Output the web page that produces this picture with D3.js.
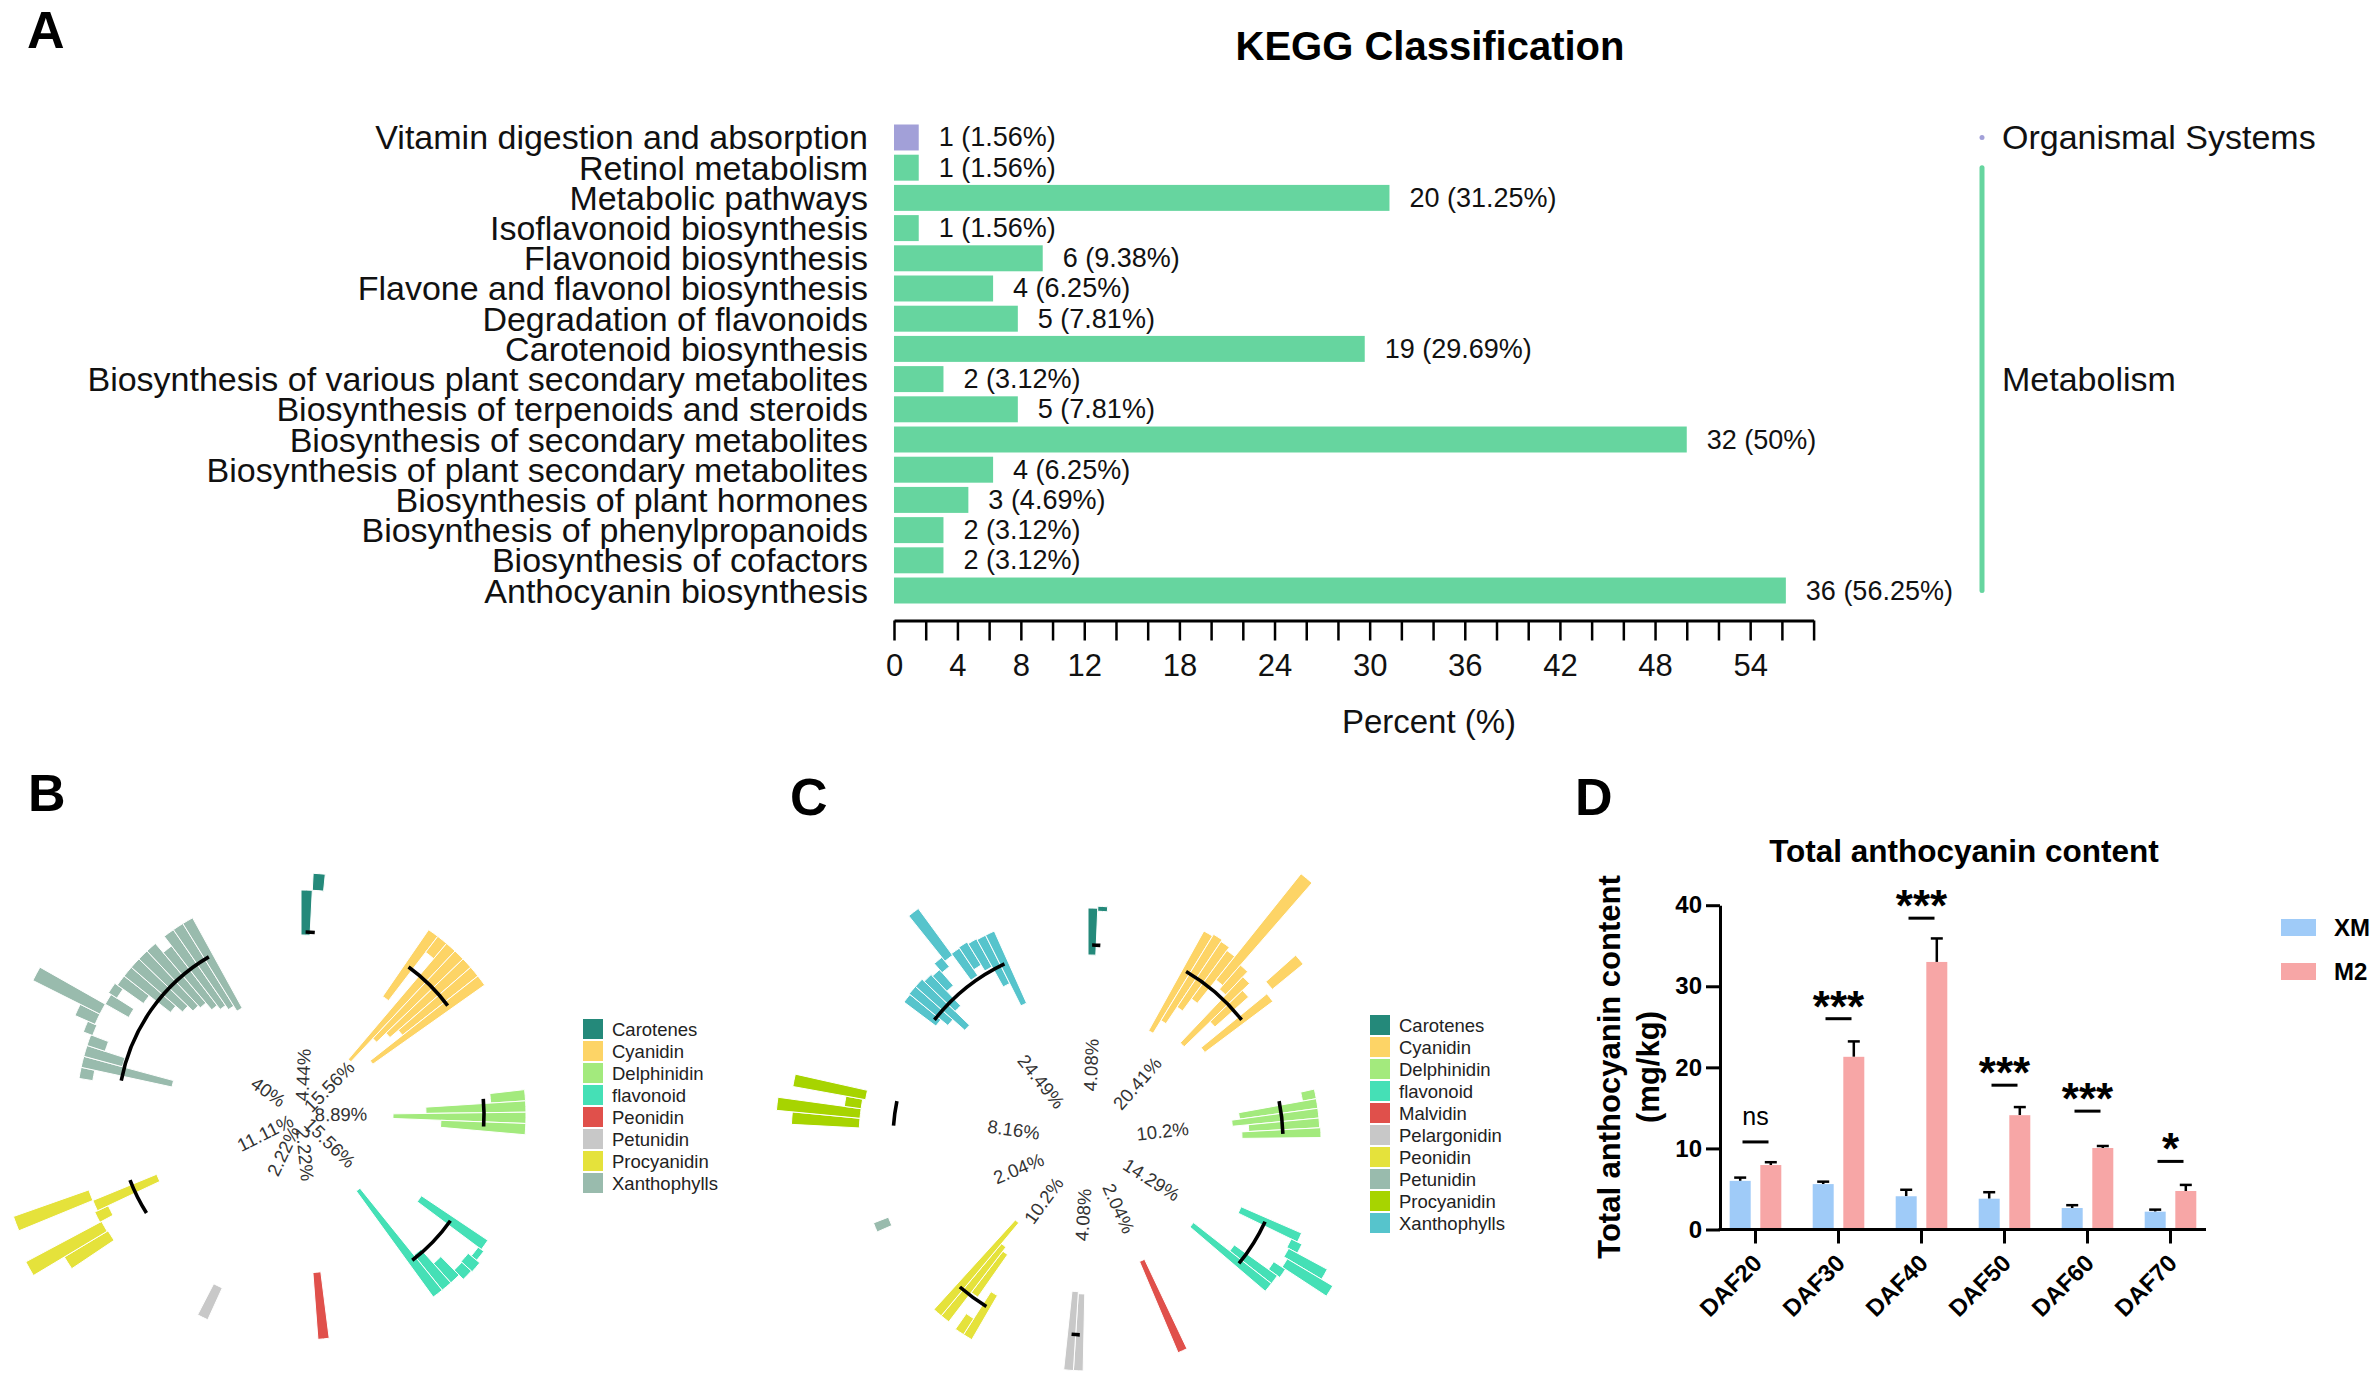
<!DOCTYPE html>
<html>
<head>
<meta charset="utf-8">
<script src="https://cdn.jsdelivr.net/npm/d3@7"></script>
<style>
  body { margin: 0; background: #fff; }
  svg { display: block; }
  text { font-family: "Liberation Sans", Arial, Helvetica, sans-serif; }
</style>
</head>
<body>
<svg id="fig" width="2376" height="1374"></svg>
<script>
// ---------- A: KEGG classification ----------
const keggTerms = [
  "Vitamin digestion and absorption", "Retinol metabolism", "Metabolic pathways",
  "Isoflavonoid biosynthesis", "Flavonoid biosynthesis", "Flavone and flavonol biosynthesis",
  "Degradation of flavonoids", "Carotenoid biosynthesis",
  "Biosynthesis of various plant secondary metabolites", "Biosynthesis of terpenoids and steroids",
  "Biosynthesis of secondary metabolites", "Biosynthesis of plant secondary metabolites",
  "Biosynthesis of plant hormones", "Biosynthesis of phenylpropanoids",
  "Biosynthesis of cofactors", "Anthocyanin biosynthesis"
];
const keggCounts = [1, 1, 20, 1, 6, 4, 5, 19, 2, 5, 32, 4, 3, 2, 2, 36];
const keggPercent = [1.56, 1.56, 31.25, 1.56, 9.38, 6.25, 7.81, 29.69, 3.12, 7.81, 50, 6.25, 4.69, 3.12, 3.12, 56.25];
const keggClass = ["Organismal Systems"].concat(d3.range(15).map(() => "Metabolism"));
const keggClassNames = ["Organismal Systems", "Metabolism"];
const keggClassColors = ["#a2a0d8", "#66d59f"];
const percentTickLabels = [0, 4, 8, 12, 18, 24, 30, 36, 42, 48, 54];

// ---------- B: radial plot (first sample) ----------
const bGroups = ["Carotenes", "Cyanidin", "Delphinidin", "flavonoid", "Peonidin", "Petunidin", "Procyanidin", "Xanthophylls"];
const bShare = ["4.44%", "15.56%", "8.89%", "15.56%", "2.22%", "2.22%", "11.11%", "40%"];
const bColors = ["#24897a", "#fdd466", "#a3ea7d", "#45e0b6", "#e0504b", "#c8c8c8", "#e5e23b", "#99bbad"];
const bLow = [
  [-0.3, 4.2],
  [-3.9, 2.2, -11.0, -7.8, -6.5, -5.4, -9.5],
  [0.7, -5.8, -9.1, -4.3],
  [-3.8, 3.8, 3.4, 3.5, 1.6, -0.3, -8.9],
  [-2.5],
  [0.7],
  [4.2, 4.3, 3.0, -2.7, 4.2],
  [2.8, -5.1, 0.2, 2.3, 4.0, 4.2, 4.2, 1.5, 3.5, 1.0, -1.7, -2.6, -3.3, -3.6, -4.5, -5.0, -5.5, -6.1]
];
const bHigh = [
  [4.2, 5.9],
  [4.2, 4.2, 4.2, 4.2, 4.2, 4.2, 4.2],
  [4.2, 4.2, 4.2, 4.2],
  [4.2, 4.5, 4.9, 4.8, 4.2, 4.2, 4.2],
  [4.2],
  [4.2],
  [9.3, 12.9, 4.5, 4.2, 12.2],
  [4.2, 4.2, 4.2, 4.2, 5.0, 6.4, 11.7, 4.2, 4.5, 4.2, 4.2, 4.2, 4.2, 4.2, 3.0, 4.2, 4.2, 4.2]
];

// ---------- C: radial plot (second sample) ----------
const cGroups = ["Carotenes", "Cyanidin", "Delphinidin", "flavonoid", "Malvidin", "Pelargonidin", "Peonidin", "Petunidin", "Procyanidin", "Xanthophylls"];
const cShare = ["4.08%", "20.41%", "10.2%", "14.29%", "2.04%", "4.08%", "10.2%", "2.04%", "8.16%", "24.49%"];
const cColors = ["#24897a", "#fdd466", "#a3ea7d", "#45e0b6", "#e0504b", "#c8c8c8", "#e5e23b", "#99bbad", "#a7d400", "#56c4cc"];
const cLow = [
  [-1.0, 3.4],
  [-7.0, -5.5, -3.5, -2.0, 1.0, 0.5, -6.1, -2.5, 4.3, -4.9],
  [2.3, -4.2, -5.0, -3.4, -4.1],
  [-2.8, 3.1, 3.3, 3.7, 2.7, -1.5, -6.1],
  [-6.3],
  [-4.1, -4.3],
  [-1.5, 1.7, -5.5, -6.0, -8.7],
  [1.9],
  [3.4, 3.4, 3.4, 3.1],
  [-0.5, -1.4, -3.0, -1.0, 1.0, 2.7, 3.4, 0.3, 1.0, 0.3, -2.0, -4.5]
];
const cHigh = [
  [3.7, 3.9],
  [4.4, 4.6, 4.4, 4.0, 14.6, 3.7, 3.0, 2.0, 8.3, 3.6],
  [3.7, 3.7, 3.7, 3.7, 3.8],
  [3.8, 4.3, 7.7, 9.0, 4.1, 3.8, 3.8],
  [3.6],
  [3.6, 3.6],
  [3.6, 3.6, -0.3, 3.4, 3.4],
  [3.5],
  [10.2, 11.8, 5.1, 10.5],
  [3.5, 3.6, 3.6, 3.3, 3.1, 3.9, 9.2, 3.6, 3.7, 3.5, 3.4, 3.4]
];

// ---------- D: total anthocyanin content ----------
const dafLabels = ["DAF20", "DAF30", "DAF40", "DAF50", "DAF60", "DAF70"];
const lines = ["XM", "M2"];
const lineColors = ["#9fcbf8", "#f7a6a6"];
const xmMean = [6.0, 5.6, 4.1, 3.8, 2.65, 2.2];
const xmErr = [0.4, 0.3, 0.8, 0.8, 0.35, 0.25];
const m2Mean = [7.95, 21.3, 33.0, 14.1, 10.05, 4.75];
const m2Err = [0.35, 1.9, 2.9, 1.0, 0.25, 0.75];
const sigLevel = [10.8, 26.0, 38.4, 17.8, 14.6, 8.4];
const sigText = ["ns", "***", "***", "***", "***", "*"];

const svg = d3.select("#fig");
svg.append("rect").attr("width", 2376).attr("height", 1374).attr("fill", "#fff");

// panel letters
[["A", 27, 48], ["B", 28, 811], ["C", 790, 815], ["D", 1575, 815]].forEach(([t, x, y]) => {
  svg.append("text").attr("x", x).attr("y", y).text(t)
    .attr("font-size", 52).attr("font-weight", "bold").attr("fill", "#000");
});

// ================= Panel A =================
const gA = svg.append("g");
const xA = d3.scaleLinear().domain([0, 58]).range([894, 1813.6]);
const yA = d3.scaleBand().domain(keggTerms).range([124.5, 603.5]).paddingInner(0.14);
const colA = d3.scaleOrdinal().domain(keggClassNames).range(keggClassColors);

gA.append("text").attr("x", 1430).attr("y", 60).attr("text-anchor", "middle")
  .attr("font-size", 40).attr("font-weight", "bold").text("KEGG Classification");

gA.selectAll("rect.bar").data(keggTerms).join("rect")
  .attr("class", "bar")
  .attr("x", xA(0))
  .attr("y", d => yA(d))
  .attr("width", (d, i) => xA(keggPercent[i]) - xA(0))
  .attr("height", yA.bandwidth())
  .attr("fill", (d, i) => colA(keggClass[i]));

// category labels
gA.selectAll("text.cat").data(keggTerms).join("text")
  .attr("class", "cat")
  .attr("x", 868)
  .attr("y", d => yA(d) + yA.bandwidth() / 2 + 12)
  .attr("text-anchor", "end")
  .attr("font-size", 34)
  .attr("fill", "#111")
  .text(d => d);

// value labels
gA.selectAll("text.val").data(keggTerms).join("text")
  .attr("class", "val")
  .attr("x", (d, i) => xA(keggPercent[i]) + 20)
  .attr("y", d => yA(d) + yA.bandwidth() / 2 + 9)
  .attr("font-size", 27)
  .attr("fill", "#111")
  .text((d, i) => `${keggCounts[i]} (${keggPercent[i]}%)`);

// x axis
const axA = d3.axisBottom(xA)
  .tickValues(d3.range(0, 59, 2))
  .tickSize(20).tickSizeOuter(0).tickPadding(13)
  .tickFormat(d => percentTickLabels.includes(d) ? d : "");
const gAx = gA.append("g").attr("transform", "translate(0,620.5)").call(axA);
gAx.select(".domain").attr("stroke", "#000").attr("stroke-width", 3);
gAx.selectAll(".tick line").attr("stroke", "#000").attr("stroke-width", 2.5);
gAx.selectAll(".tick text").attr("font-size", 31).attr("fill", "#111")
  .attr("font-family", '"Liberation Sans", Arial, sans-serif');
gA.append("text").attr("x", 1429).attr("y", 733).attr("text-anchor", "middle")
  .attr("font-size", 33).attr("fill", "#111").text("Percent (%)");

// class brackets
keggClassNames.forEach((cls, ci) => {
  const rows = keggTerms.filter((t, i) => keggClass[i] === cls);
  const y1 = yA(rows[0]) + yA.bandwidth() / 2;
  const y2 = yA(rows[rows.length - 1]) + yA.bandwidth() / 2;
  gA.append("line").attr("x1", 1982).attr("x2", 1982).attr("y1", y1).attr("y2", y2)
    .attr("stroke", keggClassColors[ci]).attr("stroke-width", 5).attr("stroke-linecap", "round");
  gA.append("text").attr("x", 2002).attr("y", (y1 + y2) / 2 + 12)
    .attr("font-size", 34).attr("fill", "#111").text(cls);
});

// ================= Panels B & C (radial) =================
function drawRadial(cfg) {
  const g = svg.append("g").attr("transform", `translate(${cfg.cx},${cfg.cy})`);
  const slots = [];
  cfg.groups.forEach((name, gi) => {
    cfg.low[gi].forEach((lo, bi) => slots.push({ group: gi, lo: lo, hi: cfg.high[gi][bi] }));
    for (let k = 0; k < 10; k++) slots.push(null); // empty gap between groups
  });
  const ang = d3.scaleBand().domain(d3.range(slots.length)).range([0, 2 * Math.PI]);
  const r = d3.scaleLinear().domain([0, 10]).range([cfg.base, cfg.base + 10 * cfg.k]);
  const arc = d3.arc();
  const bars = [];
  slots.forEach((s, i) => { if (s) bars.push(Object.assign({ a0: ang(i), a1: ang(i) + ang.bandwidth() }, s)); });

  g.selectAll("path.rbar").data(bars).join("path")
    .attr("class", "rbar")
    .attr("d", d => arc({
      innerRadius: Math.max(0, r(Math.min(d.lo, d.hi))),
      outerRadius: r(Math.max(d.lo, d.hi)),
      startAngle: d.a0, endAngle: d.a1
    }))
    .attr("fill", d => cfg.colors[d.group])
    .attr("stroke", "#fff").attr("stroke-width", 1);

  cfg.groups.forEach((name, gi) => {
    const gb = bars.filter(b => b.group === gi);
    const m0 = (gb[0].a0 + gb[0].a1) / 2;
    const m1 = (gb[gb.length - 1].a0 + gb[gb.length - 1].a1) / 2;
    if (gb.length > 1) {
      g.append("path")
        .attr("d", arc({ innerRadius: r(0) - 1.8, outerRadius: r(0) + 1.8, startAngle: m0, endAngle: m1 }))
        .attr("fill", "#000");
    }
    const am = (gb[0].a0 + gb[gb.length - 1].a1) / 2;
    const deg = am * 180 / Math.PI;
    const rot = deg < 180 ? deg - 90 : deg - 270;
    const lx = cfg.labelR * Math.sin(am), ly = -cfg.labelR * Math.cos(am);
    g.append("text")
      .attr("transform", `translate(${lx},${ly}) rotate(${rot})`)
      .attr("text-anchor", "middle").attr("dy", "0.35em")
      .attr("font-size", 18.5).attr("fill", "#333")
      .text(cfg.share[gi]);
  });

  // legend
  const lg = svg.append("g").attr("transform", `translate(${cfg.legX},${cfg.legY})`);
  cfg.groups.forEach((name, gi) => {
    lg.append("rect").attr("x", 0).attr("y", gi * 22).attr("width", 20).attr("height", 20)
      .attr("fill", cfg.colors[gi]);
    lg.append("text").attr("x", 29).attr("y", gi * 22 + 17)
      .attr("font-size", 18.5).attr("fill", "#222").text(name);
  });
}

drawRadial({ groups: bGroups, share: bShare, colors: bColors, low: bLow, high: bHigh,
  cx: 301, cy: 1115, base: 183, k: 10, labelR: 40, legX: 583, legY: 1019 });
drawRadial({ groups: cGroups, share: cShare, colors: cColors, low: cLow, high: cHigh,
  cx: 1088, cy: 1140, base: 195, k: 10, labelR: 75, legX: 1370, legY: 1015 });

// ================= Panel D =================
const gD = svg.append("g");
const xD = d3.scaleBand().domain(dafLabels).range([1714, 2212]);
const xSub = d3.scaleBand().domain(lines).range([0, xD.bandwidth()]).paddingInner(0.314).paddingOuter(0.513);
const yD = d3.scaleLinear().domain([0, 40]).range([1229.5, 905.2]);
const colD = d3.scaleOrdinal().domain(lines).range(lineColors);

gD.append("text").attr("x", 1964).attr("y", 862).attr("text-anchor", "middle")
  .attr("font-size", 31.5).attr("font-weight", "bold").text("Total anthocyanin content");

const dRows = [];
dafLabels.forEach((d, i) => {
  dRows.push({ daf: d, line: "XM", mean: xmMean[i], err: xmErr[i] });
  dRows.push({ daf: d, line: "M2", mean: m2Mean[i], err: m2Err[i] });
});

// error bars (drawn first so bar covers lower part)
const eb = gD.selectAll("g.eb").data(dRows).join("g").attr("class", "eb");
eb.append("line")
  .attr("x1", d => xD(d.daf) + xSub(d.line) + xSub.bandwidth() / 2)
  .attr("x2", d => xD(d.daf) + xSub(d.line) + xSub.bandwidth() / 2)
  .attr("y1", d => yD(d.mean)).attr("y2", d => yD(d.mean + d.err))
  .attr("stroke", "#000").attr("stroke-width", 2.5);
eb.append("line")
  .attr("x1", d => xD(d.daf) + xSub(d.line) + xSub.bandwidth() / 2 - 6)
  .attr("x2", d => xD(d.daf) + xSub(d.line) + xSub.bandwidth() / 2 + 6)
  .attr("y1", d => yD(d.mean + d.err)).attr("y2", d => yD(d.mean + d.err))
  .attr("stroke", "#000").attr("stroke-width", 2.5);

gD.selectAll("rect.dbar").data(dRows).join("rect")
  .attr("class", "dbar")
  .attr("x", d => xD(d.daf) + xSub(d.line))
  .attr("y", d => yD(d.mean))
  .attr("width", xSub.bandwidth())
  .attr("height", d => yD(0) - yD(d.mean))
  .attr("fill", d => colD(d.line));

// y axis
const gDy = gD.append("g").attr("transform", "translate(1720,0)")
  .call(d3.axisLeft(yD).tickValues([0, 10, 20, 30, 40]).tickSize(14).tickSizeOuter(0).tickPadding(4));
gDy.select(".domain").attr("stroke", "#000").attr("stroke-width", 3);
gDy.selectAll(".tick line").attr("stroke", "#000").attr("stroke-width", 3);
gDy.selectAll(".tick text").attr("font-size", 24).attr("font-weight", "bold").attr("fill", "#000")
  .attr("font-family", '"Liberation Sans", Arial, sans-serif');

// x axis
const gDx = gD.append("g").attr("transform", `translate(0,${yD(0)})`)
  .call(d3.axisBottom(xD).tickSize(14).tickSizeOuter(0));
gDx.select(".domain").remove();
gDx.selectAll(".tick line").attr("stroke", "#000").attr("stroke-width", 3);
gDx.selectAll(".tick text")
  .attr("font-size", 24).attr("font-weight", "bold").attr("fill", "#000")
  .attr("font-family", '"Liberation Sans", Arial, sans-serif')
  .attr("text-anchor", "end").attr("dy", null).attr("y", null)
  .attr("transform", "translate(8,35) rotate(-45)");
gD.append("line").attr("x1", 1718.5).attr("x2", 2206).attr("y1", yD(0)).attr("y2", yD(0))
  .attr("stroke", "#000").attr("stroke-width", 3);

// y title
gD.append("text").attr("transform", "translate(1620,1067) rotate(-90)")
  .attr("text-anchor", "middle").attr("font-size", 31).attr("font-weight", "bold")
  .text("Total anthocyanin content");
gD.append("text").attr("transform", "translate(1659,1067) rotate(-90)")
  .attr("text-anchor", "middle").attr("font-size", 31).attr("font-weight", "bold")
  .text("(mg/kg)");

// significance marks
dafLabels.forEach((d, i) => {
  const cx = xD(d) + xD.bandwidth() / 2;
  const ly = yD(sigLevel[i]);
  gD.append("line").attr("x1", cx - 13).attr("x2", cx + 13).attr("y1", ly).attr("y2", ly)
    .attr("stroke", "#000").attr("stroke-width", 3);
  if (sigText[i] === "ns") {
    gD.append("text").attr("x", cx).attr("y", ly - 17).attr("text-anchor", "middle")
      .attr("font-size", 25).attr("fill", "#000").text(sigText[i]);
  } else {
    gD.append("text").attr("x", cx).attr("y", ly + 3).attr("text-anchor", "middle")
      .attr("font-size", 44).attr("font-weight", "bold").attr("fill", "#000").text(sigText[i]);
  }
});

// legend
lines.forEach((l, i) => {
  gD.append("rect").attr("x", 2281).attr("y", 919 + i * 44).attr("width", 35).attr("height", 17)
    .attr("fill", lineColors[i]);
  gD.append("text").attr("x", 2334).attr("y", 936 + i * 44)
    .attr("font-size", 24).attr("font-weight", "bold").text(l);
});
</script>
</body>
</html>
